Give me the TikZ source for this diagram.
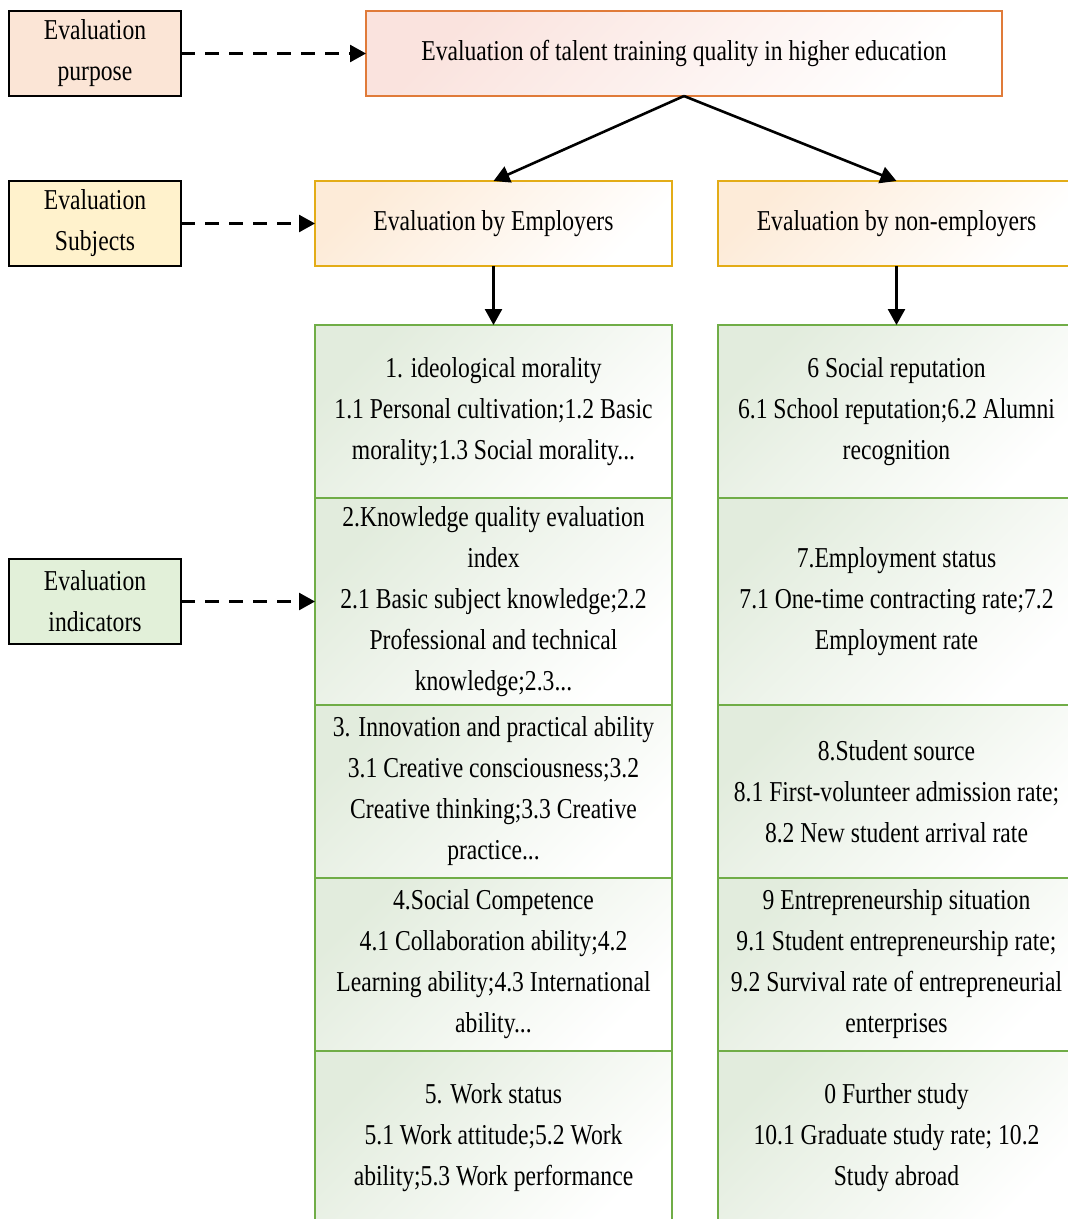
\documentclass[tikz,border=0pt]{standalone}
\usepackage{xcolor}
\usepackage{fontspec}
\setmainfont{Liberation Serif}[FakeStretch=0.82]
\usepackage{tikz}
\usetikzlibrary{arrows.meta, positioning}

\definecolor{purposefill}{HTML}{FBE5D6}
\definecolor{subjectfill}{HTML}{FFF2CC}
\definecolor{indicatorfill}{HTML}{E2F0D9}
\definecolor{topline}{HTML}{E07B39}
\definecolor{topshade}{HTML}{FAE3DE}
\definecolor{subjline}{HTML}{E3AC17}
\definecolor{subjshade}{HTML}{FDEBD8}
\definecolor{indline}{HTML}{70AD47}
\definecolor{indshade}{HTML}{E2ECDD}

\begin{document}
\begin{tikzpicture}[x=1pt, y=-1pt,
  font=\fontsize{28.8}{41}\selectfont,
  tag/.style={rectangle, draw=black, line width=1.8pt, minimum width=172pt, minimum height=85pt, inner sep=0pt, outer sep=0pt, align=center},
  box/.style={rectangle, line width=1.5pt, minimum height=85pt, inner sep=0pt, outer sep=0pt, align=center, shading angle=45},
  topbox/.style={box, draw=topline, top color=topshade, bottom color=white, shading angle=45, minimum width=636pt},
  subjbox/.style={box, draw=subjline, top color=subjshade, bottom color=white, shading angle=45, minimum width=357pt},
  indbox/.style={box, draw=indline, top color=indshade, bottom color=white, shading angle=45, minimum width=357pt, minimum height=173pt},
  arrow/.style={-{Triangle[length=16pt, width=17pt]}, line width=2.6pt},
  dasharrow/.style={arrow, dash pattern=on 14pt off 10pt}
]
  \clip (0,0) rectangle (1068,1219);

  % left-hand labels
  \node[tag, fill=purposefill] (purpose) at (95,53.5) {Evaluation\\purpose};
  \node[tag, fill=subjectfill] (subjects) at (95,223.5) {Evaluation\\Subjects};
  \node[tag, fill=indicatorfill] (indicators) at (95,601.5) {Evaluation\\indicators};

  % goal and subjects
  \node[topbox] (goal) at (684,53.5) {Evaluation of talent training quality in higher education};
  \node[subjbox] (employers) at (493.5,223.5) {Evaluation by Employers};
  \node[subjbox] (nonemployers) at (896.5,223.5) {Evaluation by non-employers};

  % indicators, employers
  \node[indbox] (e1) at (493.5,411.5) {1. ideological morality\\1.1 Personal cultivation;1.2 Basic\\morality;1.3 Social morality...};
  \node[indbox, minimum height=207pt, below=0pt of e1] (e2) {2.Knowledge quality evaluation\\index\\2.1 Basic subject knowledge;2.2\\Professional and technical\\knowledge;2.3...};
  \node[indbox, below=0pt of e2] (e3) {3. Innovation and practical ability\\3.1 Creative consciousness;3.2\\Creative thinking;3.3 Creative\\practice...};
  \node[indbox, below=0pt of e3] (e4) {4.Social Competence\\4.1 Collaboration ability;4.2\\Learning ability;4.3 International\\ability...};
  \node[indbox, below=0pt of e4] (e5) {5. Work status\\5.1 Work attitude;5.2 Work\\ability;5.3 Work performance};

  % indicators, non-employers
  \node[indbox] (n1) at (896.5,411.5) {6 Social reputation\\6.1 School reputation;6.2 Alumni\\recognition};
  \node[indbox, minimum height=207pt, below=0pt of n1] (n2) {7.Employment status\\7.1 One-time contracting rate;7.2\\Employment rate};
  \node[indbox, below=0pt of n2] (n3) {8.Student source\\8.1 First-volunteer admission rate;\\8.2 New student arrival rate};
  \node[indbox, below=0pt of n3] (n4) {9 Entrepreneurship situation\\9.1 Student entrepreneurship rate;\\9.2 Survival rate of entrepreneurial\\enterprises};
  \node[indbox, below=0pt of n4] (n5) {0 Further study\\10.1 Graduate study rate; 10.2\\Study abroad};

  \draw[dasharrow] (purpose.east) -- (goal.west);
  \draw[dasharrow] (subjects.east) -- (employers.west);
  \draw[dasharrow] (indicators.east) -- (e2.west);
  \draw[arrow] (goal.south) -- (employers.north);
  \draw[arrow] (goal.south) -- (nonemployers.north);
  \draw[arrow] (employers.south) -- (e1.north);
  \draw[arrow] (nonemployers.south) -- (n1.north);
\end{tikzpicture}
\end{document}
